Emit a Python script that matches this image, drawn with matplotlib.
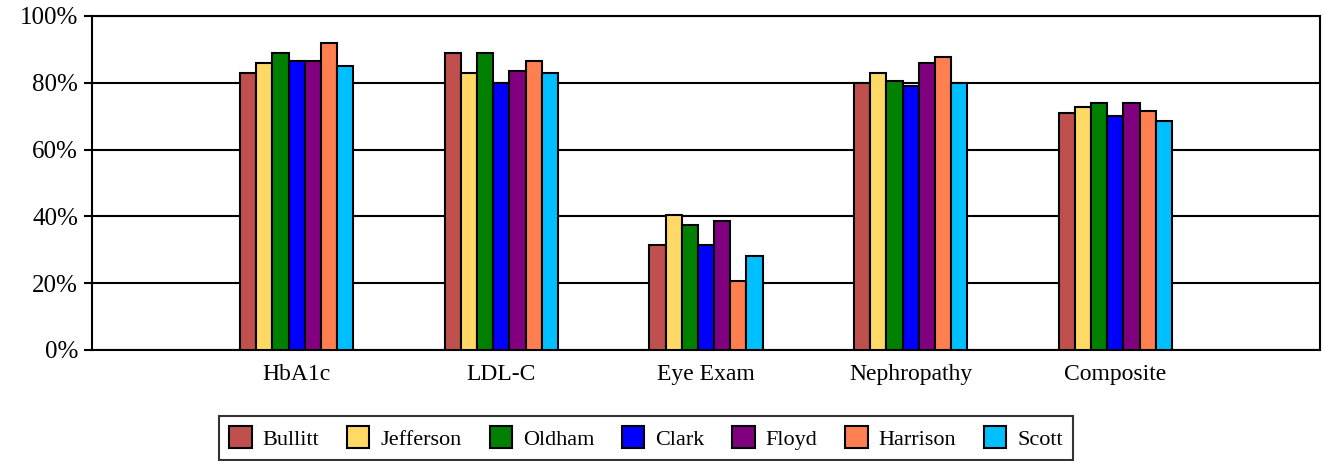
import numpy as np
import matplotlib.pyplot as plt

plt.rcParams['font.family'] = ['Liberation Serif', 'DejaVu Serif']

measures = ['HbA1c', 'LDL-C', 'Eye Exam', 'Nephropathy', 'Composite']
counties = ['Bullitt', 'Jefferson', 'Oldham', 'Clark', 'Floyd', 'Harrison', 'Scott']

bullitt = [83, 89, 31.5, 80, 71]
jefferson = [86, 83, 40.5, 83, 72.7]
oldham = [89, 89, 37.5, 80.5, 74]
clark = [86.5, 80, 31.5, 79, 70]
floyd = [86.5, 83.5, 38.5, 86, 74]
harrison = [92, 86.5, 20.7, 87.6, 71.5]
scott = [85, 83, 28, 80, 68.5]

colors = ['#C0504D', '#FFD966', '#008000', '#0000FF', '#800080', '#FF7F50', '#00BFFF']

series = [bullitt, jefferson, oldham, clark, floyd, harrison, scott]

fig = plt.figure(figsize=(13.25, 4.61), dpi=100)
ax = fig.add_axes([0.0694, 0.2408, 0.9268, 0.7245])

x = np.arange(1, len(measures) + 1)
w = 0.079
for i, (vals, name) in enumerate(zip(series, counties)):
    ax.bar(x + (i - 3) * w, vals, w, color=colors[i], edgecolor='black',
           linewidth=1.5, label=name, zorder=3)

ax.set_xlim(0, 6)
ax.set_ylim(0, 100)
ax.set_yticks(range(0, 101, 20))
ax.set_yticklabels([f'{v}%' for v in range(0, 101, 20)], fontsize=18)
ax.set_xticks(x)
ax.set_xticklabels(measures, fontsize=17)
ax.tick_params(axis='x', length=0, pad=10)
ax.tick_params(axis='y', length=6, width=1.5, direction='out', pad=4)
ax.yaxis.grid(True, color='black', linewidth=1.5, zorder=0)
for s in ax.spines.values():
    s.set_linewidth(1.5)

leg = fig.legend(loc='center', bbox_to_anchor=(0.4877, 0.0499), ncol=7,
                 fontsize=16, fancybox=False, edgecolor='black',
                 handlelength=1.0, handleheight=1.1, columnspacing=1.25,
                 handletextpad=0.5, borderpad=0.45)
leg.get_frame().set_linewidth(1.5)

fig.savefig('out.png', dpi=100)
